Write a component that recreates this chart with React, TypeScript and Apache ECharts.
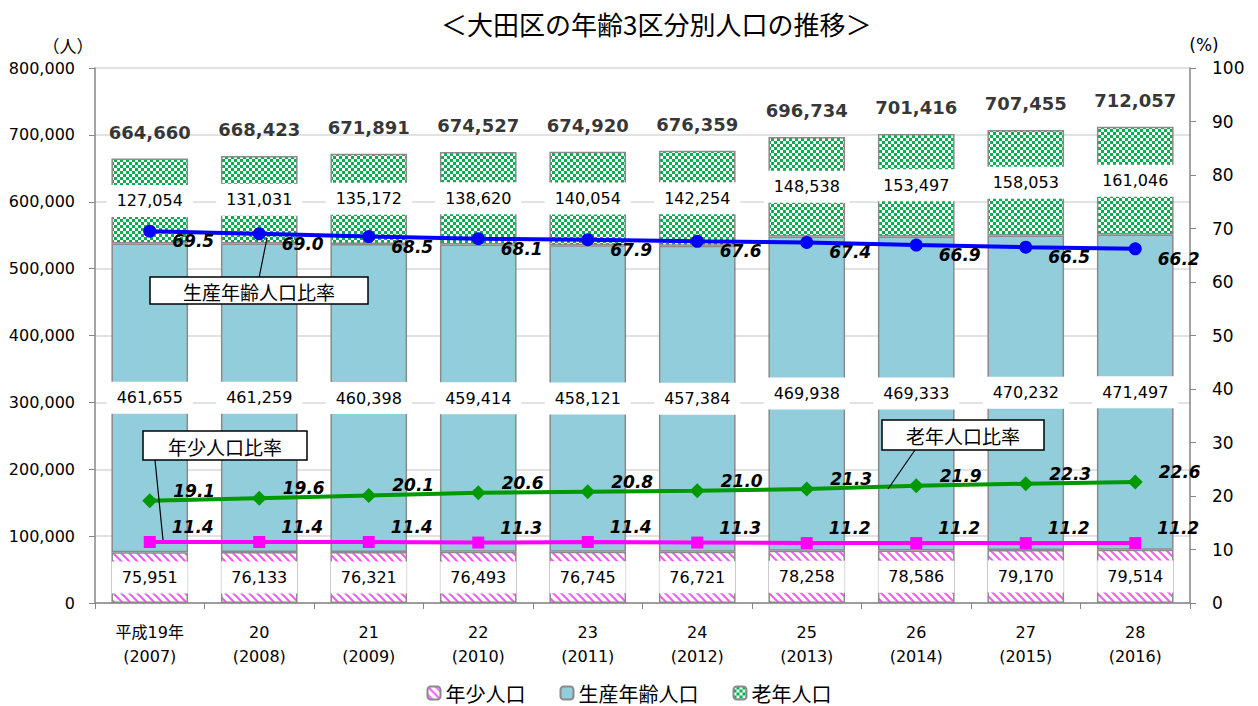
import React, { useEffect, useRef } from 'react';
import * as echarts from 'echarts';

const categories = [
  '平成19年\n(2007)', '20\n(2008)', '21\n(2009)', '22\n(2010)', '23\n(2011)',
  '24\n(2012)', '25\n(2013)', '26\n(2014)', '27\n(2015)', '28\n(2016)',
];
const youngPop = [75951, 76133, 76321, 76493, 76745, 76721, 78258, 78586, 79170, 79514];
const workingPop = [461655, 461259, 460398, 459414, 458121, 457384, 469938, 469333, 470232, 471497];
const elderlyPop = [127054, 131031, 135172, 138620, 140054, 142254, 148538, 153497, 158053, 161046];
const workingRatio = [69.5, 69.0, 68.5, 68.1, 67.9, 67.6, 67.4, 66.9, 66.5, 66.2];
const elderlyRatio = [19.1, 19.6, 20.1, 20.6, 20.8, 21.0, 21.3, 21.9, 22.3, 22.6];
const youngRatio = [11.4, 11.4, 11.4, 11.3, 11.4, 11.3, 11.2, 11.2, 11.2, 11.2];
const seriesNames = ['年少人口', '生産年齢人口', '老年人口'];
const ratioNames = ['生産年齢人口比率', '老年人口比率', '年少人口比率'];

const FONT = 'DejaVu Sans, Noto Sans CJK JP, sans-serif';
const JFONT = 'Noto Sans CJK JP, sans-serif';

function stripePattern(): HTMLCanvasElement {
  const c = document.createElement('canvas');
  c.width = 8; c.height = 8;
  const ctx = c.getContext('2d')!;
  ctx.fillStyle = '#ffffff';
  ctx.fillRect(0, 0, 8, 8);
  ctx.strokeStyle = '#ff55ff';
  ctx.lineWidth = 2;
  ctx.beginPath();
  ctx.moveTo(-2, -2); ctx.lineTo(10, 10);
  ctx.moveTo(-2, 6); ctx.lineTo(2, 10);
  ctx.moveTo(6, -2); ctx.lineTo(10, 2);
  ctx.stroke();
  return c;
}

function checkerPattern(): HTMLCanvasElement {
  const c = document.createElement('canvas');
  c.width = 6; c.height = 6;
  const ctx = c.getContext('2d')!;
  ctx.fillStyle = '#00b050';
  ctx.fillRect(0, 0, 6, 6);
  ctx.fillStyle = '#ffffff';
  ctx.fillRect(0, 0, 3, 3);
  ctx.fillRect(3, 3, 3, 3);
  return c;
}

const fmt = (v: number) => v.toLocaleString('en-US');

export default function App() {
  const ref = useRef<HTMLDivElement>(null);
  useEffect(() => {
    document.body.style.margin = '0';
    document.body.style.overflow = 'hidden';
    if (!ref.current) return;
    const chart = echarts.init(ref.current, undefined, { renderer: 'svg' });
    const totals = youngPop.map((v, i) => v + workingPop[i] + elderlyPop[i]);
    const segLabel = {
      show: true,
      position: 'inside',
      backgroundColor: '#ffffff',
      padding: [8, 10],
      fontSize: 16,
      color: '#000',
      fontFamily: FONT,
      formatter: (p: any) => fmt(p.value),
    };
    const barBorder = { borderColor: '#8a8a8a', borderWidth: 1.5 };
    const ratioLabel = (offsetY: number) => ({
      show: true,
      position: 'right',
      distance: 16,
      offset: [0, offsetY],
      fontSize: 17,
      fontStyle: 'italic',
      fontWeight: 'bold',
      color: '#000',
      fontFamily: FONT,
      formatter: (p: any) => Number(p.value).toFixed(1),
    });

    chart.setOption({
      animation: false,
      backgroundColor: '#ffffff',
      title: {
        text: '＜大田区の年齢3区分別人口の推移＞',
        left: 436,
        top: 5,
        textStyle: { fontSize: 26, fontWeight: 'normal', color: '#000', fontFamily: JFONT },
      },
      legend: {
        data: seriesNames,
        left: 'center',
        top: 678,
        itemWidth: 13,
        itemHeight: 13,
        itemGap: 34,
        textStyle: { fontSize: 20, color: '#000', fontFamily: JFONT },
      },
      grid: { left: 95, right: 68, top: 68, bottom: 103 },
      xAxis: {
        type: 'category',
        data: categories,
        axisLine: { lineStyle: { color: '#868686', width: 1.5 } },
        axisTick: { show: true, length: 6, lineStyle: { color: '#868686' } },
        axisLabel: { margin: 17, fontSize: 16, lineHeight: 24, color: '#000', fontFamily: FONT },
      },
      yAxis: [
        {
          type: 'value',
          min: 0, max: 800000, interval: 100000,
          axisLine: { show: true, lineStyle: { color: '#868686', width: 1.5 } },
          axisTick: { show: true, length: 6, lineStyle: { color: '#868686' } },
          axisLabel: { margin: 20, fontSize: 16, color: '#000', fontFamily: FONT, formatter: (v: number) => fmt(v) },
          splitLine: { show: true, lineStyle: { color: '#d9d9d9', width: 1.5 } },
        },
        {
          type: 'value',
          min: 0, max: 100, interval: 10,
          axisLine: { show: true, lineStyle: { color: '#868686', width: 1.5 } },
          axisTick: { show: true, length: 6, lineStyle: { color: '#868686' } },
          axisLabel: { margin: 22, fontSize: 17, color: '#000', fontFamily: FONT },
          splitLine: { show: false },
        },
      ],
      series: [
        {
          name: seriesNames[0], type: 'bar', stack: 'pop', barCategoryGap: '30%',
          data: youngPop,
          itemStyle: { color: { image: stripePattern(), repeat: 'repeat' }, ...barBorder },
          label: segLabel,
        },
        {
          name: seriesNames[1], type: 'bar', stack: 'pop',
          data: workingPop,
          itemStyle: { color: '#92cddc', ...barBorder },
          label: segLabel,
        },
        {
          name: seriesNames[2], type: 'bar', stack: 'pop',
          data: elderlyPop,
          itemStyle: { color: { image: checkerPattern(), repeat: 'repeat' }, ...barBorder },
          label: segLabel,
        },
        {
          name: '合計', type: 'scatter', data: totals, symbolSize: 1,
          itemStyle: { color: 'rgba(0,0,0,0)' },
          label: {
            show: true, position: 'top', distance: 17,
            fontSize: 18, fontWeight: 'bold', color: '#000', fontFamily: FONT,
            formatter: (p: any) => fmt(p.value),
          },
          z: 5,
        },
        {
          name: ratioNames[0], type: 'line', yAxisIndex: 1, data: workingRatio,
          symbol: 'circle', symbolSize: 13,
          lineStyle: { color: '#0000ff', width: 4 },
          itemStyle: { color: '#0000ff' },
          label: ratioLabel(10),
          z: 6,
        },
        {
          name: ratioNames[1], type: 'line', yAxisIndex: 1, data: elderlyRatio,
          symbol: 'diamond', symbolSize: 15,
          lineStyle: { color: '#009900', width: 4 },
          itemStyle: { color: '#009900' },
          label: ratioLabel(-10),
          z: 6,
        },
        {
          name: ratioNames[2], type: 'line', yAxisIndex: 1, data: youngRatio,
          symbol: 'rect', symbolSize: 12,
          lineStyle: { color: '#ff00ff', width: 4 },
          itemStyle: { color: '#ff00ff' },
          label: ratioLabel(-15),
          z: 6,
        },
      ],
      graphic: [
        { type: 'text', x: 68, y: 45, z: 100, style: { text: '（人）', fontSize: 17, fill: '#000', fontFamily: JFONT, align: 'center', verticalAlign: 'middle' } },
        { type: 'text', x: 1204, y: 45, z: 100, style: { text: '(%)', fontSize: 17, fill: '#000', fontFamily: FONT, align: 'center', verticalAlign: 'middle' } },
        { type: 'line', z: 100, shape: { x1: 267, y1: 238, x2: 259, y2: 278 }, style: { stroke: '#000', lineWidth: 1.2 } },
        { type: 'rect', z: 100, shape: { x: 150, y: 277, width: 218, height: 27 }, style: { fill: '#fff', stroke: '#000', lineWidth: 1.5 } },
        { type: 'text', z: 101, x: 259, y: 291, style: { text: ratioNames[0], fontSize: 19, fill: '#000', fontFamily: JFONT, align: 'center', verticalAlign: 'middle' } },
        { type: 'line', z: 100, shape: { x1: 155, y1: 460, x2: 163, y2: 540 }, style: { stroke: '#000', lineWidth: 1.2 } },
        { type: 'rect', z: 100, shape: { x: 143, y: 431, width: 164, height: 29 }, style: { fill: '#fff', stroke: '#000', lineWidth: 1.5 } },
        { type: 'text', z: 101, x: 225, y: 446, style: { text: ratioNames[2], fontSize: 19, fill: '#000', fontFamily: JFONT, align: 'center', verticalAlign: 'middle' } },
        { type: 'line', z: 100, shape: { x1: 915, y1: 450, x2: 888, y2: 489 }, style: { stroke: '#000', lineWidth: 1.2 } },
        { type: 'rect', z: 100, shape: { x: 882, y: 420, width: 162, height: 30 }, style: { fill: '#fff', stroke: '#000', lineWidth: 1.5 } },
        { type: 'text', z: 101, x: 963, y: 435, style: { text: ratioNames[1], fontSize: 19, fill: '#000', fontFamily: JFONT, align: 'center', verticalAlign: 'middle' } },
      ],
    });
    return () => chart.dispose();
  }, []);
  return <div ref={ref} style={{ width: 1258, height: 706 }} />;
}
